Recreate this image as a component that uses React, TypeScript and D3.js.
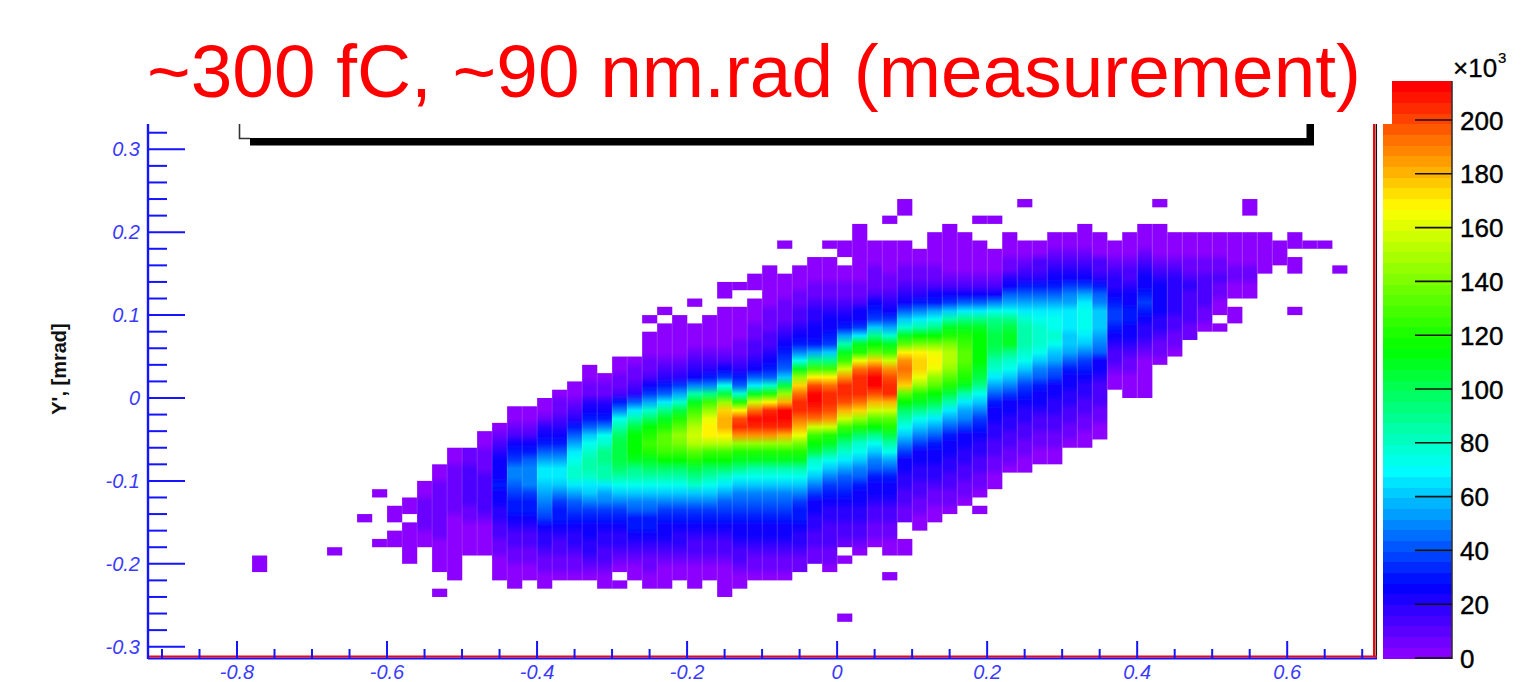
import React from "react";
import * as d3 from "d3";

const W = 1533;
const H = 682;
const FONT = "'Liberation Sans', Arial, sans-serif";

const titleText = "~300 fC, ~90 nm.rad (measurement)";
const yAxisTitle = "Y', [mrad]";
const xMajorTicks = [-0.8, -0.6, -0.4, -0.2, 0, 0.2, 0.4, 0.6];
const xMajorLabels = ["-0.8", "-0.6", "-0.4", "-0.2", "0", "0.2", "0.4", "0.6"];
const yMajorTicks = [0.3, 0.2, 0.1, 0, -0.1, -0.2, -0.3];
const yMajorLabels = ["0.3", "0.2", "0.1", "0", "-0.1", "-0.2", "-0.3"];
const barTicks = [0, 20, 40, 60, 80, 100, 120, 140, 160, 180, 200];

const xBinWidth = 0.02;
const yBinHeight = 0.01;
const yTopEdge = 0.24;
const levelStep = 6; // thousand counts per level character

const levelChars = "0123456789abcdefghijklmnopqrstuvwxyz";

// [column index (x = index * 0.02), first row (y = 0.24 - row * 0.01), levels going down; "." = empty]
const binColumns: [number, number, string][] = [
  [-39, 43, "00"],
  [-34, 42, "0"],
  [-32, 38, "0"],
  [-31, 35, "0.....0"],
  [-30, 37, "00.00"],
  [-29, 36, "00.00000"],
  [-28, 34, "00111100"],
  [-27, 32, "0011111110000..0"],
  [-26, 30, "0011111100000000"],
  [-25, 30, "1122222110000"],
  [-24, 28, "001112222210000"],
  [-23, 27, "0123444544332211000"],
  [-22, 25, "0012456887655432211000"],
  [-21, 25, "001245788865543221100"],
  [-20, 24, "00134579bba987643321100"],
  [-19, 23, "011234579bba86554322110"],
  [-18, 22, "00123579bcddb97654332110"],
  [-17, 20, "00113457acdeedba8654433210"],
  [-16, 21, "0113458cdffeeb986543322100"],
  [-15, 19, "0011258ceghhhgeca865433210.0"],
  [-14, 19, "011237behjjjifeca8755432100"],
  [-13, 14, "0.000112469dgjklkigeca87554321100"],
  [-12, 13, "0.000012357bfikmmljgeca86544321000"],
  [-11, 14, "0000012369dhkmonljgeca8654332100"],
  [-10, 12, "0..00012348eilnpqpmkhfda86543221000"],
  [-9, 14, "000012358florsspljgeca8654322100"],
  [-8, 10, "00.000001246chotuuspljgdb9765432210000"],
  [-7, 10, "0..0000112357dksxyvokifca876544322100"],
  [-6, 9, "00.0001122347biqwzyvokieca87654432110"],
  [-5, 8, "00000111223457dksyzyvokieca87654432110"],
  [-4, 5, "0...000111234567ahouzzyuokieca87654432110"],
  [-3, 8, "00011223458ciotwyywurnkieca8655433211"],
  [-2, 7, "000112334459flsxzzywqljhdca8644332211"],
  [-1, 5, "0.00011234456aflswyyxvqkifca865433222110"],
  [0, 5, "00.001123459eilqvyyxuqlifdb9765433221.0......0"],
  [1, 3, "0000000112446bikrwyyywtokgdca87544332210"],
  [2, 5, "0001112456afjmtxzzxuqmjfca87544322110"],
  [3, 2, "0..00001123469dilqvxyyuqmkhec975443221100..0"],
  [4, 0, "00...000112347adimsvwvtmjgeca8644332211..00"],
  [5, 6, "00112358bejnsttrokifca864433221100"],
  [6, 4, "0000112459cfjnrsromjheb975443321100"],
  [7, 3, "0000001246aeiknppomkheb975443322110"],
  [8, 4, "000001247bfiklmmlkieb986443322110"],
  [9, 2, "0..00001247bfijjjjihfca86543322110.0"],
  [10, 2, "0...0001248cfghhgedb9754433221100"],
  [11, 4, "000113479cfhiifdca86443322110"],
  [12, 0, "0....00123579bdeeedca865433221100"],
  [13, 5, "00223579bcdddca875443221100"],
  [14, 4, "001234579bccdca9764433221100"],
  [15, 4, "001234689bbbaa975443322110"],
  [16, 3, "000123469bcccba865433221100"],
  [17, 4, "000223578aaa9874432221100"],
  [18, 5, "001233456654322100"],
  [19, 4, "00012234455443211000"],
  [20, 3, "000123445654332100000"],
  [21, 0, "0..00001234444332110"],
  [22, 4, "000123333322110"],
  [23, 4, "0001123222211"],
  [24, 4, "000112222110"],
  [25, 4, "0001121100.0"],
  [26, 4, "00001100.00"],
  [27, 0, "00..00001100"],
  [28, 4, "00000"],
  [29, 5, "000"],
  [30, 4, "00.00....0"],
  [31, 5, "0"],
  [32, 5, "0"],
  [33, 8, "0"],
];

const paletteStops = [0, 27, 70, 115, 167, 190, 212];
const paletteColors = ["#9000ff", "#0000ff", "#00ffff", "#00ff00", "#ffff00", "#ff8000", "#ff0000"];

const x = d3.scaleLinear().domain([-0.8, 0.6]).range([237, 1287.2]);
const y = d3.scaleLinear().domain([0.3, -0.3]).range([149.3, 646.7]);
const zy = d3.scaleLinear().domain([0, 200]).range([658, 120]);
const color = d3
  .scaleLinear<string>()
  .domain(paletteStops)
  .range(paletteColors)
  .interpolate(d3.interpolateRgb)
  .clamp(true);

// each contiguous vertical run of bins in a column becomes one shaded strip
type Run = { x0: number; x1: number; y0: number; y1: number; vals: number[] };
const runs: Run[] = [];
binColumns.forEach(([c, row, levels]) => {
  let cur: number[] = [];
  let start = 0;
  const flush = () => {
    if (!cur.length) return;
    const top = yTopEdge - (row + start) * yBinHeight;
    runs.push({
      x0: x(c * xBinWidth),
      x1: x((c + 1) * xBinWidth),
      y0: y(top),
      y1: y(top - cur.length * yBinHeight),
      vals: cur,
    });
    cur = [];
  };
  levels.split("").forEach((ch, i) => {
    const lv = levelChars.indexOf(ch);
    if (lv < 0) {
      flush();
    } else {
      if (!cur.length) start = i;
      cur.push(lv * levelStep + 1);
    }
  });
  flush();
});

const xMinor = d3.range(-0.9, 0.7001, 0.05).filter((v) => !xMajorTicks.some((m) => Math.abs(m - v) < 1e-6));
const yMinor = d3.range(-0.3, 0.3201, 0.02).filter((v) => !yMajorTicks.some((m) => Math.abs(m - v) < 1e-6));
const barBands = d3.range(0, 54);
const barTop = 214.5;

const AXIS = "#1414ff";
const LABEL = "#3a3aff";

export default function App() {
  return (
    <svg
      width={W}
      height={H}
      viewBox={`0 0 ${W} ${H}`}
      style={{ position: "absolute", left: 0, top: 0, display: "block", background: "#fff" }}
    >
      <defs>
        <filter id="soft" x="-2%" y="-2%" width="104%" height="104%">
          <feGaussianBlur stdDeviation="0.4" />
        </filter>
        {runs.map((r, i) => (
          <linearGradient key={i} id={`run${i}`} gradientUnits="userSpaceOnUse" x1={0} x2={0} y1={r.y0} y2={r.y1}>
            {r.vals.map((v, j) => (
              <stop key={j} offset={(j + 0.5) / r.vals.length} stopColor={color(v)} />
            ))}
          </linearGradient>
        ))}
      </defs>
      {/* heat map */}
      <g filter="url(#soft)">
        {runs.map((r, i) => (
          <rect key={i} x={r.x0} y={r.y0} width={r.x1 - r.x0 + 0.2} height={r.y1 - r.y0} fill={`url(#run${i})`} />
        ))}
        {runs.map((r, i) => (
          <line key={i} x1={r.x0} x2={r.x0} y1={r.y0} y2={r.y1} stroke="#fff" strokeOpacity={0.15} strokeWidth={1} />
        ))}
      </g>

      {/* frame */}
      <line x1={1374} x2={1374} y1={124} y2={657} stroke="#ff0000" strokeWidth={2} />
      <line x1={1376.3} x2={1376.3} y1={124} y2={659} stroke="#111" strokeWidth={1.5} />
      <line x1={148} x2={1377} y1={656.6} y2={656.6} stroke="#ff0000" strokeWidth={2} />
      <line x1={148} x2={1377} y1={658.6} y2={658.6} stroke={AXIS} strokeWidth={2} />
      <line x1={148} x2={148} y1={124} y2={659} stroke={AXIS} strokeWidth={2.4} />

      {/* y axis */}
      {yMinor.map((v) => (
        <line key={v} x1={148} x2={167} y1={y(v)} y2={y(v)} stroke={AXIS} strokeWidth={2} />
      ))}
      {yMajorTicks.map((v, i) => (
        <g key={v}>
          <line x1={148} x2={185} y1={y(v)} y2={y(v)} stroke={AXIS} strokeWidth={2} />
          <text x={140} y={y(v) + 7} textAnchor="end" fontFamily={FONT} fontStyle="italic" fontSize={20} fill={LABEL}>
            {yMajorLabels[i]}
          </text>
        </g>
      ))}

      {/* x axis */}
      {xMinor.map((v) => (
        <line key={v} x1={x(v)} x2={x(v)} y1={649} y2={658} stroke={AXIS} strokeWidth={2} />
      ))}
      {xMajorTicks.map((v, i) => (
        <g key={v}>
          <line x1={x(v)} x2={x(v)} y1={641} y2={658} stroke={AXIS} strokeWidth={2} />
          <text x={x(v)} y={679} textAnchor="middle" fontFamily={FONT} fontStyle="italic" fontSize={20} fill={LABEL}>
            {xMajorLabels[i]}
          </text>
        </g>
      ))}

      <text
        transform="translate(66,369) rotate(-90)"
        textAnchor="middle"
        fontFamily={FONT}
        fontWeight="bold"
        fontSize={20}
        fill="#111"
      >
        {yAxisTitle}
      </text>

      {/* colour bar */}
      <g shapeRendering="crispEdges">
        {barBands.map((b) => {
          const v0 = (b * barTop) / barBands.length;
          const v1 = ((b + 1) * barTop) / barBands.length;
          return (
            <rect
              key={b}
              x={1383}
              width={69}
              y={zy(v1)}
              height={zy(v0) - zy(v1) + 0.5}
              fill={color((v0 + v1) / 2)}
            />
          );
        })}
      </g>
      <rect x={1377.5} y={0} width={14.5} height={124} fill="#fff" />
      <line x1={1452} x2={1452} y1={zy(barTop)} y2={659} stroke="#333" strokeWidth={1.6} />
      {barTicks.map((v) => (
        <g key={v}>
          <line x1={1415} x2={1452} y1={zy(v)} y2={zy(v)} stroke="#111" strokeWidth={1.6} />
          <text x={1460} y={zy(v) + 9.5} fontFamily={FONT} fontSize={26} fill="#000" stroke="#000" strokeWidth={0.4}>
            {v}
          </text>
        </g>
      ))}
      <text x={1453} y={77} fontFamily={FONT} fontSize={26} fill="#000" stroke="#000" strokeWidth={0.3}>
        ×10
      </text>
      <text x={1498} y={63} fontFamily={FONT} fontSize={15} fill="#000" stroke="#000" strokeWidth={0.2}>
        3
      </text>

      {/* title and bracket */}
      <text x={147} y={97} fontFamily={FONT} fontSize={74.8} fill="#ff0000">
        {titleText}
      </text>
      <path d="M239.5,124 V138.5 H250" fill="none" stroke="#333" strokeWidth={1.6} />
      <rect x={250} y={138} width={1064} height={7.5} fill="#000" />
      <rect x={1306.5} y={124} width={7.5} height={21} fill="#000" />
    </svg>
  );
}
